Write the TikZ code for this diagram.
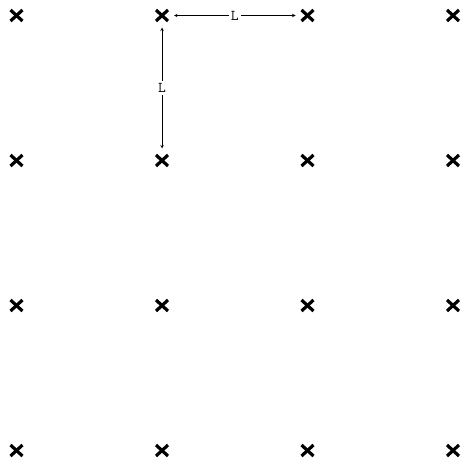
\documentclass[tikz,border=0pt]{standalone}
\usepackage{tikz}
\usetikzlibrary{arrows,positioning}

\begin{document}
\begin{tikzpicture}[x=1pt,y=-1pt]
  \tikzset{>=stealth}
  \tikzset{
    site/.style={circle, minimum size=24pt, inner sep=0pt, outer sep=0pt,
      path picture={
        \draw[line width=3.2pt] ([xshift=-6pt,yshift=-5.5pt]path picture bounding box.center) -- ([xshift=6pt,yshift=5.5pt]path picture bounding box.center);
        \draw[line width=3.2pt] ([xshift=-6pt,yshift=5.5pt]path picture bounding box.center) -- ([xshift=6pt,yshift=-5.5pt]path picture bounding box.center);
      }},
    len/.style={fill=white, inner sep=2pt, font=\ttfamily\fontsize{15}{15}\selectfont}
  }
  \useasboundingbox (0,0) rectangle (468,466);
    % Lattice sites
    \foreach \i in {0,...,3} {
      \foreach \j in {0,...,3} {
        \node [site] (p-\i-\j) at (16.5+145.5*\i, 15.5+145*\j) {};
      }
    }
    % Lattice spacing
    \draw[<->, line width=0.6pt] (p-1-0) -- (p-2-0) node[midway, len] {L};
    \draw[<->, line width=0.6pt] (p-1-0) -- (p-1-1) node[midway, len] {L};
\end{tikzpicture}
\end{document}
